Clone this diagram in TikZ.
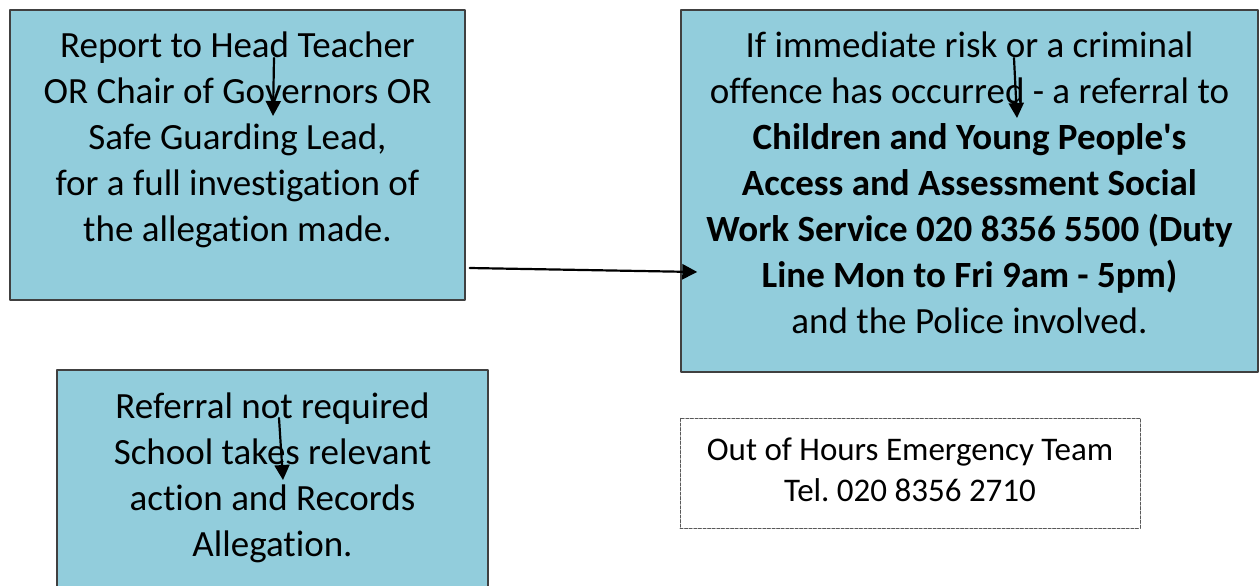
\documentclass[tikz,border=0pt]{standalone}
\usepackage{fontspec}
\setmainfont{Carlito}[Ligatures=NoCommon]
\usetikzlibrary{arrows.meta,positioning}
\definecolor{boxblue}{HTML}{92CDDC}
\definecolor{boxline}{HTML}{404040}
\frenchspacing

\begin{document}
\begin{tikzpicture}[x=0.5pt, y=-0.5pt, >={Triangle[length=7.5pt,width=7.5pt]},
    line cap=round, line join=round,
    box/.style={draw=boxline, line width=0.7pt, fill=boxblue},
    note/.style={draw=gray!70!black, line width=0.5pt, dash pattern=on 1.5pt off 0.8pt, fill=white},
    txt/.style={align=center, font=\fontsize{18.5}{23}\selectfont},
    small/.style={align=center, font=\fontsize{16.5}{20.5}\selectfont},
    flow/.style={->, line width=1.1pt}]

          % Page frame (the lower box runs off the page)
          \useasboundingbox (0,0) rectangle (1260,585);
          \clip (0,0) rectangle (1260,585);

          % The four boxes
          \node[box, minimum width=227.5pt, minimum height=145pt] (report) at (237.5,155) {};
          \node[box, minimum width=288.5pt, minimum height=181pt] (referral) at (969.5,191) {};
          \node[box, minimum width=215.5pt, minimum height=115pt] (noref) at (272.5,485) {};
          \node[note, minimum width=230pt, minimum height=55pt] (hours) at (910,473) {};

          % Texts of the boxes
          \node[txt] (reporttext) at (237.5,140) {Report to Head Teacher\\OR Chair of Governors OR\\Safe Guarding Lead,\\for a full investigation of\\the allegation made.};
          \node[txt] (referraltext) at (969.5,183) {If immediate risk or a criminal\\offence has occurred - a referral to\\
               \textbf{Children and Young People\textquotesingle s}\\\textbf{Access and Assessment Social}\\
               \textbf{Work Service 020 8356 5500 (Duty}\\\textbf{Line Mon to Fri 9am - 5pm)}\\and the Police involved.};
          \node[txt] (noreftext) at (272.5,478) {Referral not required\\School takes relevant\\action and Records\\Allegation.};
          \node[small] (hourstext) at (910,470) {Out of Hours Emergency Team\\Tel. 020 8356 2710};

          % Short arrows lying on the box texts
          \coordinate (Tail1) at (274,58);   \coordinate (Head1) at (273,116);
          \coordinate (Tail2) at (1014,58);  \coordinate (Head2) at (1017,118);
          \coordinate (Tail3) at (279,418);  \coordinate (Head3) at (283,480);
          \draw[flow] (Tail1) -- (Head1);
          \draw[flow] (Tail2) -- (Head2);
          \draw[flow] (Tail3) -- (Head3);

          % Arrow from the report box to the referral box
          \draw[flow] ([shift={(4,113)}]report.east) -- ([shift={(17,81)}]referral.west);
        \end{tikzpicture}
\end{document}
